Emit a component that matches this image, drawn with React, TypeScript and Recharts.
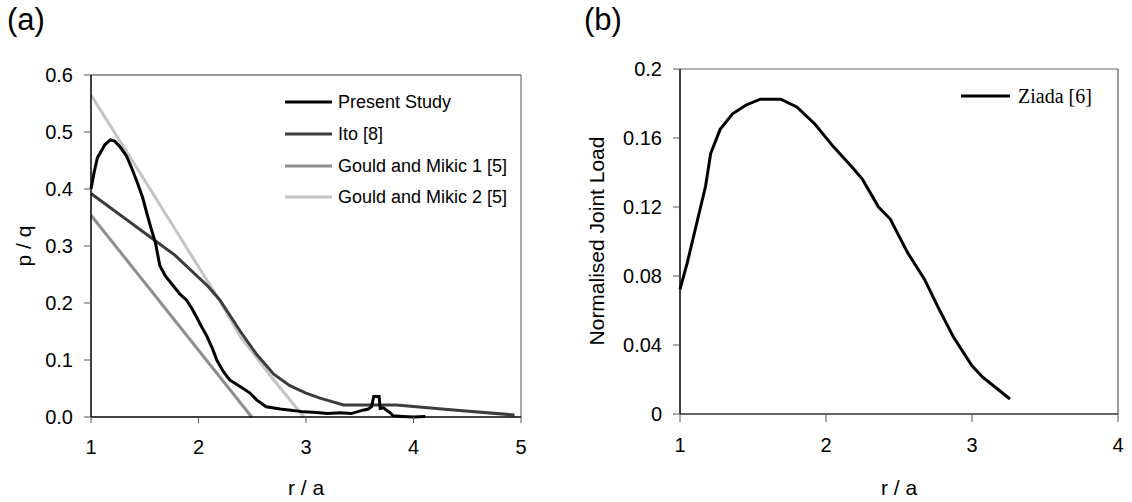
import { LineChart, Line, XAxis, YAxis, ReferenceLine } from "recharts";

const SANS = "'Liberation Sans', Arial, sans-serif";
const SERIF = "'Liberation Serif', 'Times New Roman', serif";

// panel (a) — p/q against r/a
const presentX = [1.0, 1.03, 1.06, 1.1, 1.13, 1.18, 1.22, 1.27, 1.33, 1.38, 1.43, 1.48, 1.52, 1.56, 1.6, 1.64, 1.69, 1.77, 1.83, 1.89, 1.94, 1.98, 2.03, 2.08, 2.13, 2.17, 2.23, 2.29, 2.39, 2.48, 2.54, 2.63, 2.76, 2.86, 2.98, 3.1, 3.2, 3.32, 3.42, 3.53, 3.58, 3.61, 3.63, 3.68, 3.69, 3.72, 3.75, 3.78, 3.81, 3.9, 4.0, 4.11];
const presentY = [0.4, 0.43, 0.455, 0.468, 0.478, 0.486, 0.484, 0.474, 0.458, 0.436, 0.412, 0.385, 0.357, 0.33, 0.305, 0.266, 0.248, 0.229, 0.215, 0.205, 0.19, 0.176, 0.158, 0.141, 0.12, 0.1, 0.08, 0.065, 0.053, 0.042, 0.03, 0.018, 0.014, 0.012, 0.009, 0.008, 0.006, 0.0076, 0.006, 0.012, 0.014, 0.018, 0.036, 0.036, 0.015, 0.016, 0.012, 0.008, 0.002, 0.001, 0.0, 0.001];

const itoX = [1.0, 1.78, 2.09, 2.2, 2.39, 2.54, 2.7, 2.85, 3.0, 3.13, 3.35, 3.84, 4.4, 4.94];
const itoY = [0.392, 0.284, 0.229, 0.205, 0.15, 0.11, 0.075, 0.055, 0.042, 0.033, 0.021, 0.021, 0.012, 0.0035];

const gould1X = [1.0, 2.495];
const gould1Y = [0.354, 0.0];

const gould2X = [1.0, 1.49, 2.2, 2.39, 2.7, 2.98];
const gould2Y = [0.565, 0.418, 0.203, 0.141, 0.065, 0.0];

const ticksAX = [1, 2, 3, 4, 5];
const ticksAY = [0, 0.1, 0.2, 0.3, 0.4, 0.5, 0.6];

// panel (b) — normalised joint load
const ziadaX = [1.0, 1.05, 1.11, 1.175, 1.21, 1.275, 1.36, 1.45, 1.55, 1.69, 1.8, 1.925, 2.05, 2.175, 2.25, 2.36, 2.44, 2.56, 2.675, 2.775, 2.875, 3.0, 3.075, 3.175, 3.26];
const ziadaY = [0.0723, 0.0877, 0.109, 0.132, 0.151, 0.165, 0.174, 0.179, 0.1825, 0.1825, 0.178, 0.168, 0.155, 0.1435, 0.136, 0.12, 0.113, 0.0934, 0.078, 0.0607, 0.0443, 0.0279, 0.0212, 0.0145, 0.0087];

const ticksBX = [1, 2, 3, 4];
const ticksBY = [0, 0.04, 0.08, 0.12, 0.16, 0.2];
const labelsBY = ["0", "0.04", "0.08", "0.12", "0.16", "0.2"];

const zip = (xs: number[], ys: number[]) => xs.map((x, i) => ({ x, y: ys[i] }));

const seriesA = [
  { name: "Present Study", color: "#000000", data: zip(presentX, presentY) },
  { name: "Ito [8]", color: "#3c3c3c", data: zip(itoX, itoY) },
  { name: "Gould and Mikic 1 [5]", color: "#8e8e8e", data: zip(gould1X, gould1Y) },
  { name: "Gould and Mikic 2 [5]", color: "#c4c4c4", data: zip(gould2X, gould2Y) },
];

const TICK_FONT = 20;

// tick renderers so the label size is exactly what we ask for
const makeXTick = (fmt: (v: number) => string) => (props: any) => (
  <text x={props.x} y={props.y} dy="0.71em" textAnchor="middle" fontSize={TICK_FONT} fontFamily={SANS} fill="#000">
    {fmt(props.payload.value)}
  </text>
);
const makeYTick = (fmt: (v: number) => string) => (props: any) => (
  <text x={props.x} y={props.y} dy="0.355em" textAnchor="end" fontSize={TICK_FONT} fontFamily={SANS} fill="#000">
    {fmt(props.payload.value)}
  </text>
);

function PanelA() {
  return (
    <LineChart width={560} height={502} margin={{ top: 75, right: 39, bottom: 0, left: 0 }}>
      <XAxis
        type="number"
        dataKey="x"
        domain={[1, 5]}
        ticks={ticksAX}
        height={85}
        tickSize={6}
        tickMargin={17}
        axisLine={{ stroke: "#000", strokeWidth: 1.5 }}
        tickLine={{ stroke: "#555" }}
        tick={makeXTick((v) => String(v))}
        allowDuplicatedCategory={false}
      />
      <YAxis
        type="number"
        dataKey="y"
        domain={[0, 0.6]}
        ticks={ticksAY}
        width={91}
        tickSize={7}
        tickMargin={11}
        axisLine={{ stroke: "#000", strokeWidth: 1.5 }}
        tickLine={{ stroke: "#555" }}
        tick={makeYTick((v) => v.toFixed(1))}
      />
      <ReferenceLine y={0.6} stroke="#333" strokeWidth={1} />
      <ReferenceLine x={5} stroke="#555" strokeWidth={1} />
      {[...seriesA].reverse().map((s) => (
        <Line
          key={s.name}
          data={s.data}
          dataKey="y"
          name={s.name}
          type="linear"
          stroke={s.color}
          strokeWidth={3}
          dot={false}
          isAnimationActive={false}
        />
      ))}
    </LineChart>
  );
}

function PanelB() {
  return (
    <LineChart width={572} height={502} margin={{ top: 69, right: 14, bottom: 0, left: 0 }}>
      <XAxis
        type="number"
        dataKey="x"
        domain={[1, 4]}
        ticks={ticksBX}
        height={88}
        tickSize={8}
        tickMargin={16}
        axisLine={{ stroke: "#333", strokeWidth: 1.5 }}
        tickLine={{ stroke: "#555" }}
        tick={makeXTick((v) => String(v))}
      />
      <YAxis
        type="number"
        dataKey="y"
        domain={[0, 0.2]}
        ticks={ticksBY}
        width={120}
        tickSize={7}
        tickMargin={11}
        axisLine={{ stroke: "#000", strokeWidth: 1.5 }}
        tickLine={{ stroke: "#555" }}
        tick={makeYTick((v) => labelsBY[ticksBY.indexOf(v)] ?? String(v))}
      />
      <ReferenceLine y={0.2} stroke="#666" strokeWidth={1} />
      <ReferenceLine x={4} stroke="#333" strokeWidth={1} />
      <Line
        data={zip(ziadaX, ziadaY)}
        dataKey="y"
        name="Ziada [6]"
        type="linear"
        stroke="#000"
        strokeWidth={3}
        dot={false}
        isAnimationActive={false}
      />
    </LineChart>
  );
}

export default function App() {
  const legendRowsY = [102, 134, 166, 197];
  return (
    <div style={{ position: "absolute", left: 0, top: 0, width: 1132, height: 502, background: "#fff" }}>
      <div style={{ position: "absolute", left: 0, top: 0 }}>
        <PanelA />
      </div>
      <div style={{ position: "absolute", left: 560, top: 0 }}>
        <PanelB />
      </div>
      <svg
        width={1132}
        height={502}
        style={{ position: "absolute", left: 0, top: 0, pointerEvents: "none" }}
      >
        <text x={7} y={30} fontSize={31} fontFamily={SANS} fill="#000">(a)</text>
        <text x={584} y={30} fontSize={31} fontFamily={SANS} fill="#000">(b)</text>

        <text
          transform="translate(23,246) rotate(-90)"
          textAnchor="middle"
          dominantBaseline="central"
          fontSize={21}
          fontFamily={SANS}
        >
          p / q
        </text>
        <text x={306} y={487} textAnchor="middle" dominantBaseline="central" fontSize={21} fontFamily={SANS}>
          r / a
        </text>
        <text
          transform="translate(596,241) rotate(-90)"
          textAnchor="middle"
          dominantBaseline="central"
          fontSize={21}
          fontFamily={SANS}
        >
          Normalised Joint Load
        </text>
        <text x={899} y={487} textAnchor="middle" dominantBaseline="central" fontSize={21} fontFamily={SANS}>
          r / a
        </text>

        {seriesA.map((s, i) => (
          <g key={s.name}>
            <line x1={285} x2={332} y1={legendRowsY[i]} y2={legendRowsY[i]} stroke={s.color} strokeWidth={3} />
            <text x={338} y={legendRowsY[i]} dominantBaseline="central" fontSize={18} fontFamily={SANS}>
              {s.name}
            </text>
          </g>
        ))}

        <line x1={961} x2={1010} y1={96} y2={96} stroke="#000" strokeWidth={3} />
        <text x={1018} y={96} dominantBaseline="central" fontSize={20} fontFamily={SERIF}>
          Ziada [6]
        </text>
      </svg>
    </div>
  );
}
